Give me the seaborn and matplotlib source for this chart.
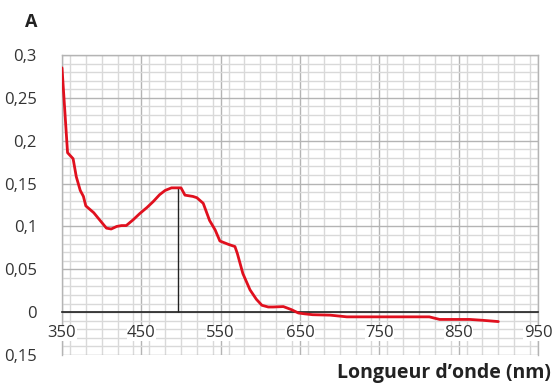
import matplotlib
matplotlib.use("Agg")
import matplotlib.pyplot as plt
from matplotlib.ticker import MultipleLocator, FixedLocator, FixedFormatter
import seaborn as sns
import pandas as pd

# Absorption spectrum: wavelength (nm) and absorbance A
wavelength = [350, 357, 364, 368, 373, 377, 380, 390, 398, 406, 412, 419, 425,
              431, 440, 448, 457, 465, 473, 480, 488, 494, 500, 505, 515, 520,
              528, 536, 543, 549, 560, 568, 571, 578, 587, 595, 602, 610, 616,
              629, 639, 648, 656, 666, 688, 709, 738, 780, 813, 826, 864, 880, 900]
absorbance = [0.285, 0.186, 0.179, 0.158, 0.142, 0.135, 0.124, 0.116, 0.107, 0.098,
              0.097, 0.100, 0.101, 0.101, 0.108, 0.115, 0.122, 0.129, 0.137, 0.142,
              0.145, 0.145, 0.145, 0.1365, 0.135, 0.1335, 0.127, 0.107, 0.096,
              0.083, 0.079, 0.0765, 0.0685, 0.045, 0.026, 0.015, 0.008, 0.006, 0.006,
              0.0065, 0.003, -0.001, -0.002, -0.003, -0.0035, -0.0055, -0.0055,
              -0.0055, -0.0055, -0.0085, -0.0085, -0.0095, -0.011]

# Absorption maximum marker
peak_nm = 496
peak_abs = 0.145

x_ticks = [350, 450, 550, 650, 750, 850, 950]
y_ticks = [-0.05, 0, 0.05, 0.1, 0.15, 0.2, 0.25, 0.3]
y_tick_labels = ["0,15", "0", "0,05", "0,1", "0,15", "0,2", "0,25", "0,3"]

df = pd.DataFrame({"wavelength": wavelength, "A": absorbance})

sns.set_style("white")
plt.rcParams["font.family"] = ["Open Sans", "DejaVu Sans"]

fig = plt.figure(figsize=(5.55, 3.83), dpi=100)
ax = fig.add_axes([62 / 555, 1 - 355 / 383, (538 - 62) / 555, (355 - 55) / 383])

ax.set_xlim(350, 950)
ax.set_ylim(-0.05, 0.3)

# Graph-paper grid
ax.xaxis.set_major_locator(FixedLocator(x_ticks))
ax.xaxis.set_minor_locator(MultipleLocator(20))
ax.yaxis.set_major_locator(FixedLocator(y_ticks))
ax.yaxis.set_major_formatter(FixedFormatter(y_tick_labels))
ax.yaxis.set_minor_locator(MultipleLocator(0.01))
ax.grid(which="major", color="#b4b4b4", lw=1.0)
ax.grid(which="minor", color="#d9d9d9", lw=1.0)
ax.set_axisbelow(True)

sns.lineplot(data=df, x="wavelength", y="A", ax=ax, color="#e0101e", lw=2.0,
             zorder=4)
ax.vlines(peak_nm, 0, peak_abs, color="#222222", lw=1.0, zorder=3)

# Wavelength axis drawn along A = 0
for side in ("top", "left", "right"):
    ax.spines[side].set_color("#b4b4b4")
    ax.spines[side].set_linewidth(1.0)
ax.spines["bottom"].set_position(("data", 0))
ax.spines["bottom"].set_color("#222222")
ax.spines["bottom"].set_linewidth(1.2)
ax.spines["bottom"].set_zorder(3)

ax.tick_params(axis="x", which="both", direction="inout", length=8, width=1.0,
               color="#222222", labelbottom=False)
ax.tick_params(axis="y", which="both", length=0, pad=18, labelsize=12,
               labelcolor="#333333")

# Wavelength labels sit on the grid with a white backing
for v in x_ticks:
    ax.text(v, 0.073, str(v), transform=ax.get_xaxis_transform(),
            ha="center", va="center", fontsize=12, color="#333333", zorder=6,
            bbox=dict(facecolor="white", edgecolor="none", pad=0.3))

ax.set_xlabel("")
ax.set_ylabel("")

fig.text(31 / 555, 1 - 22 / 383, "A", fontsize=13, fontweight="bold",
         color="#222222", ha="center", va="center")
fig.text(551 / 555, 1 - 373 / 383, "Longueur d\u2019onde (nm)", fontsize=14,
         fontweight="bold", color="#222222", ha="right", va="center")

fig.savefig("out.png", dpi=100)
